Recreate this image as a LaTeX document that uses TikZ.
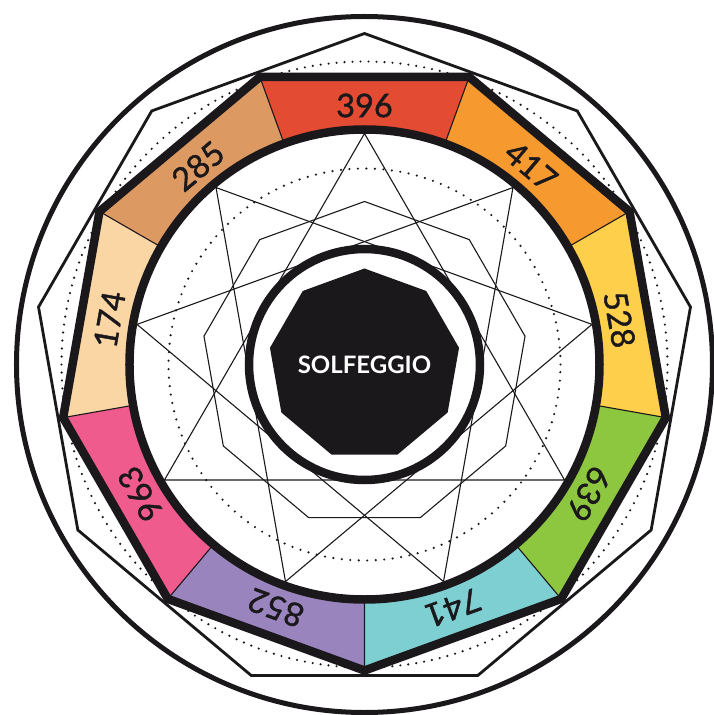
\documentclass[tikz,border=0pt]{standalone}
\usepackage{fontspec}
\setmainfont{Lato}
\newfontface\freqface{Lato}[FakeBold=1.3]

\definecolor{ink}{HTML}{1B181C}
\definecolor{c396}{HTML}{E34B33}
\definecolor{c417}{HTML}{F6992F}
\definecolor{c528}{HTML}{FECF4B}
\definecolor{c639}{HTML}{8DC63F}
\definecolor{c741}{HTML}{7DCFD1}
\definecolor{c852}{HTML}{9A84BE}
\definecolor{c963}{HTML}{EE5B8C}
\definecolor{c174}{HTML}{FAD6A5}
\definecolor{c285}{HTML}{DC9A62}

\begin{document}
\begin{tikzpicture}[
  x=1pt,y=1pt,
  rim/.style={draw=ink,line width=5},
  thinpoly/.style={draw=ink,line width=2.8,line join=miter},
  fineline/.style={draw=ink,line width=1.1},
  heavy/.style={draw=ink,line width=8.5,line join=miter},
  dotring/.style={draw=ink,line width=2.4,line cap=round,dash pattern=on 0pt off #1},
  band/.style={fill=#1},
  freq/.style={font=\freqface\fontsize{32.5}{38}\selectfont,text=ink,inner sep=0pt},
]
\useasboundingbox (-364.5,-350.5) rectangle (349.5,364.5);

% ==== OUTER FRAME ====
\draw[rim] (0,0) circle[radius=348];
\draw[thinpoly] (90:331) -- (130:331) -- (170:331) -- (210:331) -- (250:331) -- (290:331) -- (330:331) -- (10:331) -- (50:331) -- cycle;

% ==== COLOURED BAND ====
\fill[band=c396] (70:306) -- (110:306) -- (110:235) arc[start angle=110,end angle=70,radius=235] -- cycle;
\fill[band=c417] (30:306) -- (70:306) -- (70:235) arc[start angle=70,end angle=30,radius=235] -- cycle;
\fill[band=c528] (-10:306) -- (30:306) -- (30:235) arc[start angle=30,end angle=-10,radius=235] -- cycle;
\fill[band=c639] (-50:306) -- (-10:306) -- (-10:235) arc[start angle=-10,end angle=-50,radius=235] -- cycle;
\fill[band=c741] (-90:306) -- (-50:306) -- (-50:235) arc[start angle=-50,end angle=-90,radius=235] -- cycle;
\fill[band=c852] (-130:306) -- (-90:306) -- (-90:235) arc[start angle=-90,end angle=-130,radius=235] -- cycle;
\fill[band=c963] (-170:306) -- (-130:306) -- (-130:235) arc[start angle=-130,end angle=-170,radius=235] -- cycle;
\fill[band=c174] (150:306) -- (190:306) -- (190:235) arc[start angle=190,end angle=150,radius=235] -- cycle;
\fill[band=c285] (110:306) -- (150:306) -- (150:235) arc[start angle=150,end angle=110,radius=235] -- cycle;

% separators between the bands
\draw[fineline] (70:306) -- (70:235) (110:306) -- (110:235) (150:306) -- (150:235)
  (190:306) -- (190:235) (230:306) -- (230:235) (270:306) -- (270:235)
  (310:306) -- (310:235) (350:306) -- (350:235) (30:306) -- (30:235);

% dotted guide circles
\draw[dotring=8] (0,0) circle[radius=303];
\draw[dotring=8.5] (0,0) circle[radius=196];

% heavy outlines of the band
\draw[heavy] (70:306) -- (110:306) -- (150:306) -- (190:306) -- (230:306) -- (270:306) -- (310:306) -- (350:306) -- (30:306) -- cycle;
\draw[heavy] (0,0) circle[radius=235];

% ==== STAR AND INNER NONAGON ====
\draw[fineline] (90:231) -- (210:231) -- (330:231) -- cycle;
\draw[fineline] (130:231) -- (250:231) -- (10:231) -- cycle;
\draw[fineline] (50:231) -- (170:231) -- (290:231) -- cycle;
\draw[fineline] (90:163) -- (130:163) -- (170:163) -- (210:163) -- (250:163) -- (290:163) -- (330:163) -- (10:163) -- (50:163) -- cycle;

% ==== CENTRE ====
\draw[heavy,fill=white] (0,0) circle[radius=115.5];
\fill[ink] (90:96) -- (130:96) -- (170:96) -- (210:96) -- (250:96) -- (290:96) -- (330:96) -- (10:96) -- (50:96) -- cycle;
\node[font=\fontsize{24}{28}\selectfont\bfseries,text=white] (title) at (0,0) {SOLFEGGIO};

% ==== FREQUENCY LABELS ====
\node[freq,rotate=0] (f396) at (90:259) {396};
\node[freq,rotate=-40] (f417) at (50:259) {417};
\node[freq,rotate=-80] (f528) at (10:259) {528};
\node[freq,rotate=-120] (f639) at (-30:259) {639};
\node[freq,rotate=-160] (f741) at (-70:259) {741};
\node[freq,rotate=160] (f852) at (-110:259) {852};
\node[freq,rotate=120] (f963) at (-150:259) {963};
\node[freq,rotate=80] (f174) at (170:259) {174};
\node[freq,rotate=40] (f285) at (130:259) {285};

\end{tikzpicture}
\end{document}
